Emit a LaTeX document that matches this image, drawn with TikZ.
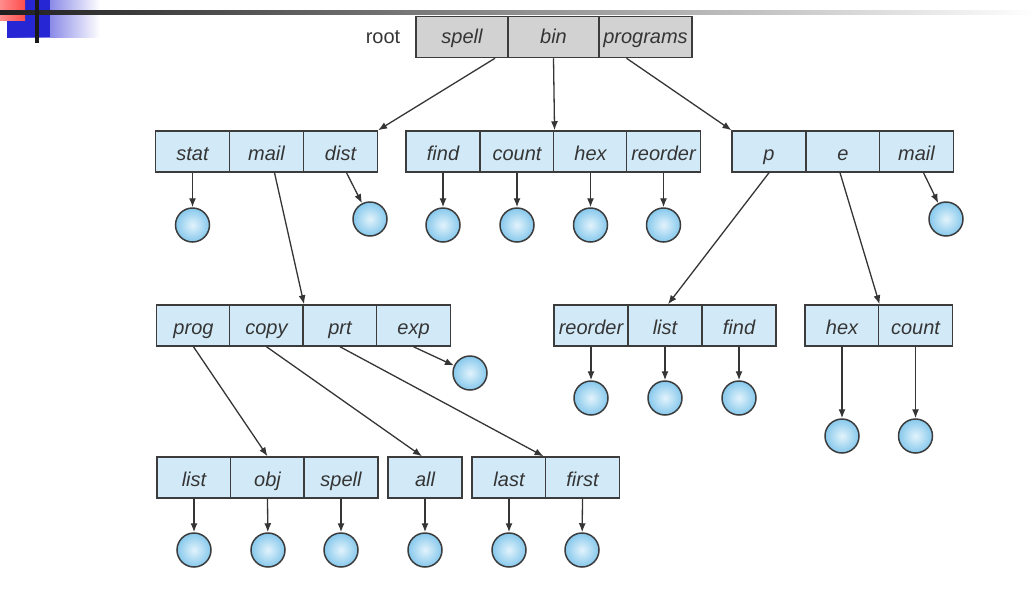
\documentclass[tikz,border=0pt]{standalone}
\usepackage{fontspec}
\setmainfont{Liberation Sans}
\usetikzlibrary{arrows.meta}

\definecolor{cellblue}{HTML}{D2EAF8}
\definecolor{cellgray}{HTML}{D2D2D2}
\definecolor{edge}{HTML}{3C3C3C}
\definecolor{ink}{HTML}{353535}
\definecolor{ballin}{HTML}{E2F3FC}
\definecolor{ballout}{HTML}{86C8EC}

\tikzset{
  cell/.style={draw=edge,fill=cellblue,line width=1.5pt,minimum width=73.6pt,
    minimum height=41pt,inner sep=0pt,text=ink,text height=18pt,text depth=1pt,
    font=\fontsize{20}{23}\selectfont\itshape},
  rootcell/.style={cell,fill=cellgray,minimum width=92pt,text height=17pt,text depth=4pt},
  leaf/.style={circle,draw=edge,line width=1.5pt,minimum size=34pt,inner sep=0pt,
    inner color=ballin,outer color=ballout},
  link/.style={draw=ink,line width=1.3pt,-{Latex[length=9pt,width=7pt]}}
}

\begin{document}
\begin{tikzpicture}[x=1pt,y=-1pt]
  \useasboundingbox (0,0) rectangle (1036,600);

  % slide header
  \shade[left color=blue!80!black!85,right color=white] (7,0) rectangle (100,37);
  \fill[blue!80!black!85] (7,0) rectangle (50,37);
  \shade[left color=red!45,right color=red!70] (0,0) rectangle (25,20);
  \shade[left color=black!88,right color=white] (0,10) rectangle (1036,14);
  \fill[black!90] (35,0) rectangle (39,43);

  % root
  \node[text=ink,font=\fontsize{20}{23}\selectfont,text height=17pt,text depth=4pt]
    (root) at (383,37) {root};
  \node[rootcell] (r-spell) at (462,37) {spell};
  \node[rootcell,minimum width=91pt] (r-bin) at (553.5,37) {bin};
  \node[rootcell,minimum width=93pt] (r-programs) at (645.5,37) {programs};

  % second level
  \node[cell] (a-stat) at (192.5,151.5) {stat};
  \node[cell] (a-mail) at (266.5,151.5) {mail};
  \node[cell] (a-dist) at (340.5,151.5) {dist};

  \node[cell] (b-find) at (443,151.5) {find};
  \node[cell] (b-count) at (517,151.5) {count};
  \node[cell] (b-hex) at (590.5,151.5) {hex};
  \node[cell] (b-reorder) at (663.5,151.5) {reorder};

  \node[cell] (c-p) at (769,151.5) {p};
  \node[cell] (c-e) at (843,151.5) {e};
  \node[cell] (c-mail) at (916.5,151.5) {mail};

  \node[leaf] (l-stat) at (192.5,225) {};
  \node[leaf] (l-dist) at (370,219) {};
  \node[leaf] (l-find) at (443,225) {};
  \node[leaf] (l-count) at (517,225) {};
  \node[leaf] (l-hex) at (590.5,225) {};
  \node[leaf] (l-reorder) at (663.5,225) {};
  \node[leaf] (l-cmail) at (946,219) {};

  % third level
  \node[cell] (d-prog) at (193.5,325.5) {prog};
  \node[cell] (d-copy) at (266.5,325.5) {copy};
  \node[cell] (d-prt) at (340,325.5) {prt};
  \node[cell] (d-exp) at (413.5,325.5) {exp};

  \node[cell] (e-reorder) at (591,325.5) {reorder};
  \node[cell] (e-list) at (665,325.5) {list};
  \node[cell] (e-find) at (739,325.5) {find};

  \node[cell] (f-hex) at (842,325.5) {hex};
  \node[cell] (f-count) at (915.5,325.5) {count};

  \node[leaf] (l-exp) at (470,373) {};
  \node[leaf] (l-ereorder) at (591,398) {};
  \node[leaf] (l-elist) at (665,398) {};
  \node[leaf] (l-efind) at (739,398) {};
  \node[leaf] (l-fhex) at (842,436) {};
  \node[leaf] (l-fcount) at (915.5,436) {};

  % fourth level
  \node[cell] (g-list) at (194,477.5) {list};
  \node[cell] (g-obj) at (267.5,477.5) {obj};
  \node[cell] (g-spell) at (341,477.5) {spell};
  \node[cell] (h-all) at (425,477.5) {all};
  \node[cell] (i-last) at (509,477.5) {last};
  \node[cell] (i-first) at (582.5,477.5) {first};

  \node[leaf] (l-glist) at (194,550) {};
  \node[leaf] (l-gobj) at (268,550) {};
  \node[leaf] (l-gspell) at (341,550) {};
  \node[leaf] (l-hall) at (425,550) {};
  \node[leaf] (l-ilast) at (509,550) {};
  \node[leaf] (l-ifirst) at (582,550) {};

  % links
  \draw[link] ([xshift=33pt]r-spell.south) -- (a-dist.north east);
  \draw[link] (r-bin.south) -- (b-count.north east);
  \draw[link] ([xshift=-19pt]r-programs.south) -- (c-p.north west);

  \draw[link] (a-stat.south) -- (l-stat);
  \draw[link] ([xshift=8pt]a-mail.south) -- (d-copy.north east);
  \draw[link] ([xshift=6pt]a-dist.south) -- (l-dist);
  \draw[link] (b-find.south) -- (l-find);
  \draw[link] (b-count.south) -- (l-count);
  \draw[link] (b-hex.south) -- (l-hex);
  \draw[link] (b-reorder.south) -- (l-reorder);
  \draw[link] (c-p.south) -- ([xshift=3pt]e-list.north);
  \draw[link] ([xshift=-3pt]c-e.south) -- (f-hex.north east);
  \draw[link] ([xshift=7pt]c-mail.south) -- (l-cmail);

  \draw[link] (d-prog.south) -- (g-obj.north);
  \draw[link] (d-copy.south) -- ([xshift=-3pt]h-all.north);
  \draw[link] (d-prt.south) -- ([xshift=-3pt]i-last.north east);
  \draw[link] (d-exp.south) -- (l-exp);
  \draw[link] (e-reorder.south) -- (l-ereorder);
  \draw[link] (e-list.south) -- (l-elist);
  \draw[link] (e-find.south) -- (l-efind);
  \draw[link] (f-hex.south) -- (l-fhex);
  \draw[link] (f-count.south) -- (l-fcount);

  \draw[link] (g-list.south) -- (l-glist);
  \draw[link] (g-obj.south) -- (l-gobj);
  \draw[link] (g-spell.south) -- (l-gspell);
  \draw[link] (h-all.south) -- (l-hall);
  \draw[link] (i-last.south) -- (l-ilast);
  \draw[link] (i-first.south) -- (l-ifirst);
\end{tikzpicture}
\end{document}
